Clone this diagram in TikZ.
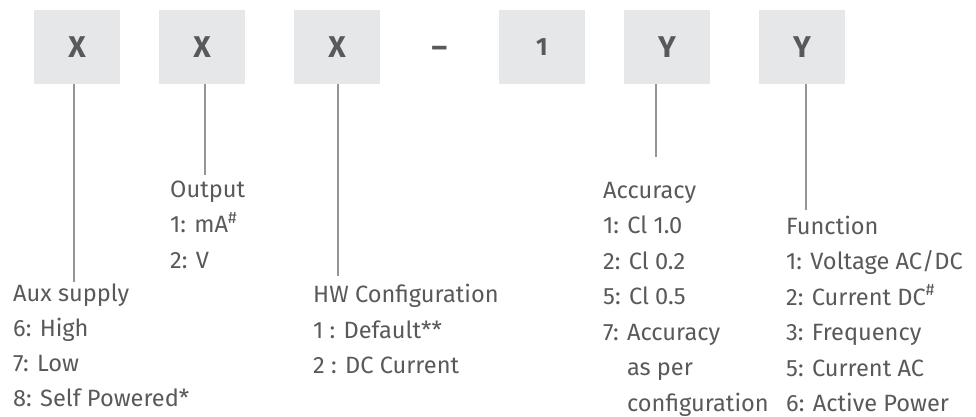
\documentclass[tikz,border=0pt]{standalone}
\usepackage{fontspec}
\setmainfont{Fira Sans}
\definecolor{txt}{HTML}{58595B}
\definecolor{boxfill}{HTML}{E6E7E8}
\definecolor{linec}{HTML}{939598}
\begin{document}
\begin{tikzpicture}[x=1pt,y=-1pt,
  codebox/.style={fill=boxfill,minimum width=86pt,minimum height=74pt,inner sep=0pt,text=txt,font=\fontsize{30}{30}\selectfont\bfseries},
  lbl/.style={anchor=base west,inner sep=0pt,text=txt,font=\fontsize{23.6}{28}\selectfont},
  conn/.style={draw=linec,line width=2pt}]
\useasboundingbox (0,0) rectangle (976,416);
% code boxes
\node[codebox] (b1) at (77,47) {X};
\node[codebox] (b2) at (202,47) {X};
\node[codebox] (b3) at (337,47) {X};
\node[inner sep=0pt,anchor=base,text=txt,font=\fontsize{30}{30}\selectfont\bfseries] (dash) at (439.5,57) {–};
\node[codebox,font=\fontsize{25}{25}\selectfont\bfseries] (b4) at (542,47) {1};
\node[codebox] (b5) at (667,47) {Y};
\node[codebox] (b6) at (802,47) {Y};
% Aux supply
\node[lbl] (aux) at (13,301.5) {Aux supply};
\node[lbl] (aux1) at (13,336.5) {6: High};
\node[lbl] (aux2) at (13,371.5) {7: Low};
\node[lbl] (aux3) at (13,406.5) {8: Self Powered*};
% Output
\node[lbl] (out) at (170,197) {Output};
\node[lbl] (out1) at (170,232.5) {1: mA\textsuperscript{\#}};
\node[lbl] (out2) at (170,268) {2: V};
% HW configuration
\node[lbl] (hw) at (313,302.5) {HW Configuration};
\node[lbl] (hw1) at (313,338) {1 : Default**};
\node[lbl] (hw2) at (313,373.5) {2 : DC Current};
% Accuracy
\node[lbl] (acc) at (603,198) {Accuracy};
\node[lbl] (acc1) at (603,233.5) {1: Cl 1.0};
\node[lbl] (acc2) at (603,269) {2: Cl 0.2};
\node[lbl] (acc3) at (603,304.5) {5: Cl 0.5};
\node[lbl] (acc4) at (603,340) {7: Accuracy};
\node[lbl] (acc5) at (603,375.5) {\phantom{7: }as per};
\node[lbl] (acc6) at (603,411) {\phantom{7: }configuration};
% Function
\node[lbl] (fn) at (786,234) {Function};
\node[lbl] (fn1) at (786,269.5) {1: Voltage AC/DC};
\node[lbl] (fn2) at (786,305) {2: Current DC\textsuperscript{\#}};
\node[lbl] (fn3) at (786,340.5) {3: Frequency};
\node[lbl] (fn4) at (786,376) {5: Current AC};
\node[lbl] (fn5) at (786,411) {6: Active Power};
% connectors
\coordinate (e1) at (74.3,282);
\coordinate (e2) at (204.7,175);
\coordinate (e3) at (338,276);
\coordinate (e5) at (656,157);
\coordinate (e6) at (805.7,210);
\draw[conn] (b1.south -| e1) -- (e1);
\draw[conn] (b2.south -| e2) -- (e2);
\draw[conn] (b3.south -| e3) -- (e3);
\draw[conn] (b5.south -| e5) -- (e5);
\draw[conn] (b6.south -| e6) -- (e6);
\end{tikzpicture}
\end{document}
